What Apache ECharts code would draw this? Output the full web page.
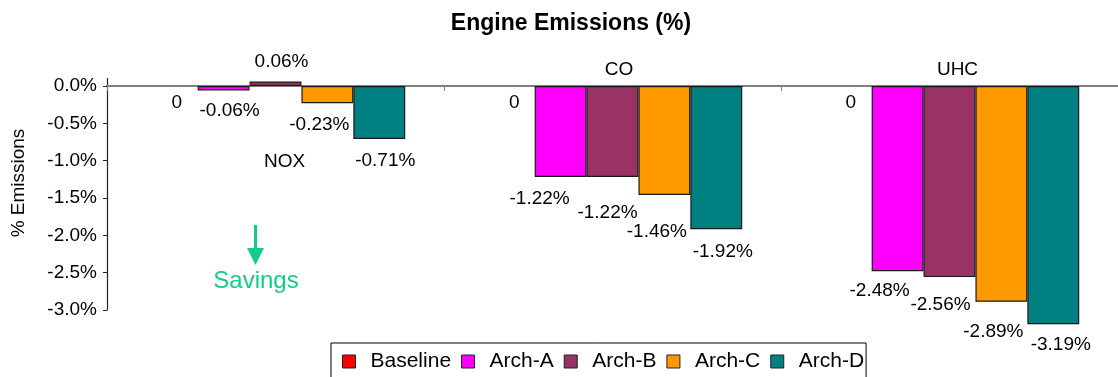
<!DOCTYPE html>
<html>
<head>
<meta charset="utf-8">
<script src="https://cdn.jsdelivr.net/npm/echarts@6/dist/echarts.min.js"></script>
<style>
html,body{margin:0;padding:0;background:#fff;}
#chart{width:1118px;height:377px;}
</style>
</head>
<body>
<div id="chart"></div>
<script>
// ---- data ----
const categories = ['NOX', 'CO', 'UHC'];
const seriesNames = ['Baseline', 'Arch-A', 'Arch-B', 'Arch-C', 'Arch-D'];
const baseline = [0, 0, 0];
const archA = [-0.06, -1.22, -2.48];
const archB = [0.06, -1.22, -2.56];
const archC = [-0.23, -1.46, -2.89];
const archD = [-0.71, -1.92, -3.19];
const yTicks = [0, -0.5, -1.0, -1.5, -2.0, -2.5, -3.0];
const titleText = 'Engine Emissions (%)';
const yAxisTitle = '% Emissions';
const noteText = 'Savings';

// ---- styles ----
const FONT = "'Liberation Sans', Arial, Helvetica, sans-serif";
const colors = ['#FF0000', '#FF00FF', '#993366', '#FF9900', '#008080'];
const seriesValues = [baseline, archA, archB, archC, archD];
// label nudges [dx, dy] per series / category (to mimic the original's label placement)
const labelNudges = [
  [[5, 7.5], [5.5, 7.5], [5, 7.5]],
  [[6, 10.5], [-21, 12.5], [-18, 10.5]],
  [[6, -10], [-5, 26.5], [-9, 18.5]],
  [[-8, 12.5], [-7.5, 27.5], [-8, 20.5]],
  [[6, 12], [6.5, 13], [7.5, 11.5]]
];
// category label nudges [dx from category centre, y pixel]
const catLabelPos = [[9, 162], [6.5, 70], [8, 70]];

const chart = echarts.init(document.getElementById('chart'), null, {renderer: 'canvas'});

const series = seriesNames.map((name, si) => ({
  name: name,
  type: 'bar',
  clip: false,
  barGap: '0%',
  barCategoryGap: '23%',
  itemStyle: {
    color: colors[si],
    borderColor: '#1a1a1a',
    borderWidth: si === 0 ? 0 : 1.2
  },
  label: {
    show: true,
    distance: 0,
    color: '#000',
    fontFamily: FONT,
    fontSize: 19,
    formatter: p => si === 0 ? '0' : p.value.toFixed(2) + '%'
  },
  data: seriesValues[si].map((v, ci) => ({
    value: v,
    label: {
      position: (si !== 0 && v > 0) ? 'top' : 'bottom',
      offset: labelNudges[si][ci]
    }
  }))
}));

const option = {
  animation: false,
  backgroundColor: '#fff',
  color: colors,
  title: {
    text: titleText,
    left: 566,
    top: 7,
    textAlign: 'center',
    textStyle: {fontFamily: FONT, fontSize: 23, fontWeight: 'bold', color: '#000'}
  },
  legend: {
    data: seriesNames,
    left: 331,
    top: 343,
    orient: 'horizontal',
    padding: [8, 2, 8, 11],
    borderColor: '#000',
    borderWidth: 1,
    itemWidth: 13,
    itemHeight: 13,
    itemGap: 10,
    icon: 'rect',
    itemStyle: {borderColor: '#222', borderWidth: 1},
    textStyle: {fontFamily: FONT, fontSize: 21, color: '#000', padding: [0, 0, 0, 10]}
  },
  grid: {left: 107, top: 78.5, height: 231.5, width: 1018, containLabel: false},
  xAxis: {
    type: 'category',
    data: categories,
    axisLine: {onZero: true, lineStyle: {color: '#808080', width: 2}},
    axisTick: {show: true, length: 5, lineStyle: {color: '#808080', width: 1}},
    axisLabel: {show: false},
    splitLine: {show: false}
  },
  yAxis: {
    type: 'value',
    min: -3.0005,
    max: 0.1,
    axisLine: {show: true, lineStyle: {color: '#222', width: 1.2}},
    axisTick: {show: true, inside: false, length: 4, lineStyle: {color: '#222'}, customValues: yTicks},
    axisLabel: {
      show: true,
      margin: 10,
      color: '#000',
      fontFamily: FONT,
      fontSize: 19,
      customValues: yTicks,
      formatter: v => v.toFixed(1) + '%'
    },
    splitLine: {show: false}
  },
  series: series
};

chart.setOption(option);

// Category labels, y-axis title, "Savings" note
const graphics = categories.map((c, i) => {
  const cx = chart.convertToPixel({xAxisIndex: 0}, c);
  return {
    type: 'text',
    x: cx + catLabelPos[i][0],
    y: catLabelPos[i][1],
    z: 10,
    style: {text: c, fontFamily: FONT, fontSize: 19, fill: '#000', align: 'center', verticalAlign: 'middle'}
  };
});
graphics.push({
  type: 'text',
  x: 19, y: 183,
  rotation: Math.PI / 2,
  style: {text: yAxisTitle, fontFamily: FONT, fontSize: 19, fill: '#000', align: 'center', verticalAlign: 'middle'}
});
const green = '#12CC8E';
graphics.push({
  type: 'line',
  shape: {x1: 255.5, y1: 225, x2: 255.5, y2: 252},
  style: {stroke: green, lineWidth: 3}
});
graphics.push({
  type: 'polygon',
  shape: {points: [[247, 248], [264, 248], [255.5, 265]]},
  style: {fill: green}
});
graphics.push({
  type: 'text',
  x: 256, y: 281,
  style: {text: noteText, fontFamily: FONT, fontSize: 24, fill: green, align: 'center', verticalAlign: 'middle'}
});
chart.setOption({graphic: graphics});
</script>
</body>
</html>
